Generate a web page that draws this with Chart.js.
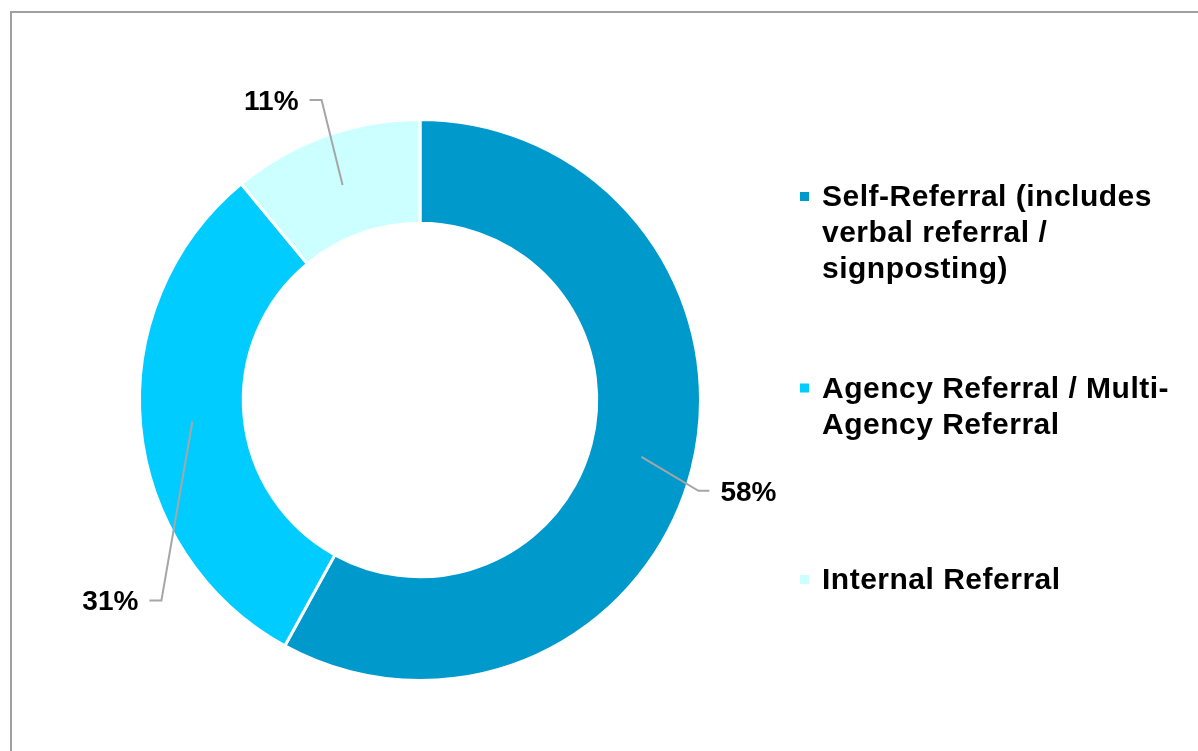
<!DOCTYPE html>
<html>
<head>
<meta charset="utf-8">
<title>Referral source</title>
<script src="https://cdn.jsdelivr.net/npm/chart.js@4.4.1/dist/chart.umd.min.js"></script>
<style>
  html, body { margin:0; padding:0; background:#fff; overflow:hidden; }
  .frame { position:absolute; left:10px; top:11px; width:1400px; height:1000px; border:2px solid #a0a0a0; box-sizing:border-box; }
  .wrap { position:absolute; left:0; top:0; width:1198px; height:751px; }
</style>
</head>
<body>
<div class="frame"></div>
<div class="wrap"><canvas id="referralChart"></canvas></div>
<script>
const categories = [
  ['Self-Referral (includes', 'verbal referral /', 'signposting)'],
  ['Agency Referral / Multi-', 'Agency Referral'],
  ['Internal Referral'],
];
const shares = [58, 31, 11];
const sliceColors = ['#0099cc', '#00ccff', '#ccffff'];

// leader layout per slice: elbow offset from the slice centre, then the short horizontal tail
const callouts = [
  { dx: 57,  dy: 34,  tail: 11 },
  { dx: -31, dy: 179, tail: -12 },
  { dx: -21, dy: -85, tail: -12 },
];

const calloutLabels = {
  id: 'calloutLabels',
  afterDatasetsDraw(chart) {
    const ctx = chart.ctx;
    const meta = chart.getDatasetMeta(0);
    const values = chart.data.datasets[0].data;
    ctx.save();
    ctx.strokeStyle = '#a6a6a6';
    ctx.lineWidth = 2;
    ctx.font = 'bold 28px "Liberation Sans", Arial, sans-serif';
    ctx.fillStyle = '#000';
    ctx.textBaseline = 'middle';
    meta.data.forEach((arc, i) => {
      const c = arc.getCenterPoint();
      const co = callouts[i];
      const ex = c.x + co.dx, ey = c.y + co.dy;
      const tx = ex + co.tail;
      ctx.beginPath();
      ctx.moveTo(c.x, c.y);
      ctx.lineTo(ex, ey);
      ctx.lineTo(tx, ey);
      ctx.stroke();
      const dir = co.tail > 0 ? 1 : -1;
      ctx.textAlign = dir > 0 ? 'left' : 'right';
      ctx.fillText(values[i] + '%', tx + dir * 11, ey + 2);
    });
    ctx.restore();
  }
};

const sideLegend = {
  id: 'sideLegend',
  afterDraw(chart, args, opts) {
    const ctx = chart.ctx;
    const colors = chart.data.datasets[0].backgroundColor;
    ctx.save();
    ctx.font = 'bold 30px "Liberation Sans", Arial, sans-serif';
    ctx.letterSpacing = '0.5px';
    ctx.textBaseline = 'alphabetic';
    ctx.textAlign = 'left';
    chart.data.labels.forEach((lines, i) => {
      const y0 = opts.top + i * opts.step;
      ctx.fillStyle = colors[i];
      ctx.fillRect(opts.x, y0 - 14, 9, 9);
      ctx.fillStyle = '#000';
      lines.forEach((ln, k) => ctx.fillText(ln, opts.x + 22, y0 + k * opts.lineHeight));
    });
    ctx.restore();
  }
};

new Chart(document.getElementById('referralChart'), {
  type: 'doughnut',
  data: {
    labels: categories,
    datasets: [{
      data: shares,
      backgroundColor: sliceColors,
      borderColor: '#ffffff',
      borderWidth: 3,
    }]
  },
  options: {
    responsive: true,
    maintainAspectRatio: false,
    animation: false,
    cutout: '63%',
    layout: { padding: { left: 138, right: 496, top: 118, bottom: 69 } },
    plugins: {
      legend: { display: false },
      tooltip: { enabled: true },
      sideLegend: { x: 800, top: 206, step: 191.5, lineHeight: 36 },
    }
  },
  plugins: [calloutLabels, sideLegend]
});
</script>
</body>
</html>
